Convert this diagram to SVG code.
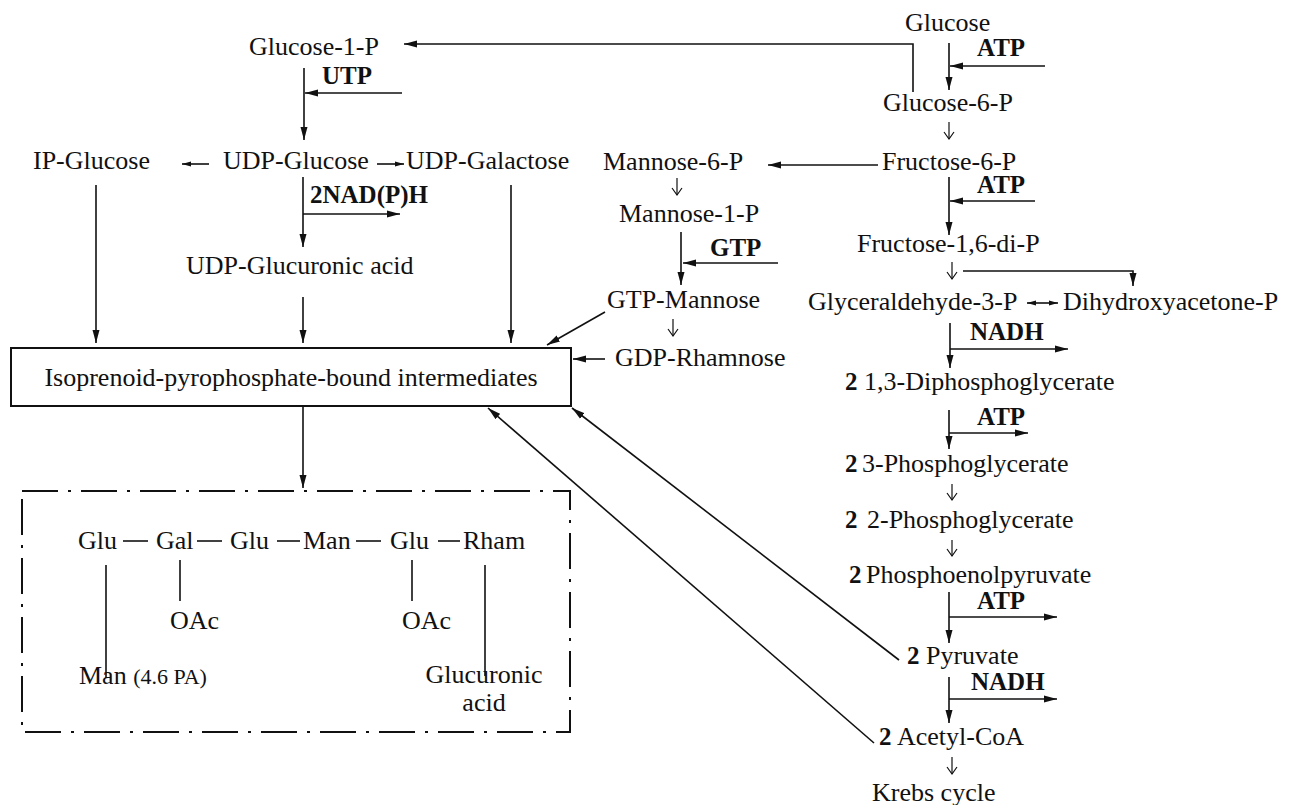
<svg xmlns="http://www.w3.org/2000/svg" width="1293" height="805" viewBox="0 0 1293 805">
<style>
text{font-family:"Liberation Serif","Times New Roman",serif;font-size:26px;fill:#111}
.b{font-weight:bold;font-size:25px}
.sm{font-size:22px}
.c line,.c polyline,.c path{stroke:#111;stroke-width:1.6;fill:none}
.c .a{marker-end:url(#ah)}
.c .s{marker-end:url(#sh)}
.c .t{stroke-width:1.2;marker-end:url(#oh)}
</style>
<defs>
<marker id="ah" markerUnits="userSpaceOnUse" markerWidth="14" markerHeight="8" refX="13" refY="4" orient="auto">
<path d="M0,0.5 L13,4 L0,7.5 z" fill="#111"/>
</marker>
<marker id="sh" markerUnits="userSpaceOnUse" markerWidth="10" markerHeight="6" refX="9" refY="3" orient="auto">
<path d="M0,0.5 L9,3 L0,5.5 z" fill="#111"/>
</marker>
<marker id="shs" markerUnits="userSpaceOnUse" markerWidth="10" markerHeight="6" refX="0" refY="3" orient="auto">
<path d="M9,0.5 L0,3 L9,5.5 z" fill="#111"/>
</marker>
<marker id="oh" markerUnits="userSpaceOnUse" markerWidth="10" markerHeight="14" refX="8" refY="6" orient="auto">
<path d="M1,1 L8,6 L1,11" fill="none" stroke="#111" stroke-width="1.2"/>
</marker>
</defs>

<g id="connectors" class="c">
<!-- glycolysis -->
<line class="a" x1="949" y1="43" x2="949" y2="90"/>
<line class="a" x1="1045" y1="66" x2="950" y2="66"/>
<polyline class="a" points="913,92 913,44 404,44"/>
<line class="t" x1="949" y1="122" x2="949" y2="139"/>
<line class="a" x1="949" y1="177" x2="949" y2="235"/>
<line class="a" x1="1035" y1="201" x2="950" y2="201"/>
<line class="a" x1="878" y1="165" x2="768" y2="165"/>
<line class="t" x1="952" y1="262" x2="952" y2="279"/>
<polyline class="a" points="963,271 1133,271 1133,286"/>
<line style="marker-start:url(#shs);marker-end:url(#sh)" x1="1027" y1="303" x2="1058" y2="303"/>
<line class="a" x1="950" y1="323" x2="950" y2="368"/>
<line class="a" x1="950" y1="349" x2="1068" y2="349"/>
<line class="a" x1="949" y1="410" x2="949" y2="449"/>
<line class="a" x1="949" y1="433" x2="1028" y2="433"/>
<line class="t" x1="952" y1="484" x2="952" y2="500"/>
<line class="t" x1="952" y1="540" x2="952" y2="556"/>
<line class="a" x1="949" y1="592" x2="949" y2="643"/>
<line class="a" x1="949" y1="617" x2="1057" y2="617"/>
<line class="a" x1="949" y1="677" x2="949" y2="723"/>
<line class="a" x1="949" y1="699" x2="1057" y2="699"/>
<line class="t" x1="952" y1="757" x2="952" y2="774"/>
<line class="a" x1="899" y1="660" x2="572" y2="408"/>
<line class="a" x1="874" y1="743" x2="488" y2="408"/>
<!-- UDP side -->
<line class="a" x1="304" y1="68" x2="304" y2="140"/>
<line class="a" x1="402" y1="93" x2="305" y2="93"/>
<line class="s" x1="209" y1="164" x2="182" y2="164"/>
<line class="s" x1="377" y1="164" x2="404" y2="164"/>
<line class="a" x1="303" y1="177" x2="303" y2="247"/>
<line class="a" x1="303" y1="214" x2="400" y2="214"/>
<line class="a" x1="96" y1="185" x2="96" y2="343"/>
<line class="a" x1="303" y1="297" x2="303" y2="343"/>
<line class="a" x1="511" y1="185" x2="511" y2="343"/>
<!-- mannose side -->
<line class="t" x1="677" y1="178" x2="677" y2="195"/>
<line class="a" x1="681" y1="232" x2="681" y2="285"/>
<line class="a" x1="778" y1="263" x2="683" y2="263"/>
<line class="a" x1="605" y1="312" x2="547" y2="345"/>
<line class="t" x1="673" y1="319" x2="673" y2="336"/>
<line class="a" x1="605" y1="359" x2="573" y2="359"/>
<!-- box to polymer -->
<line class="a" x1="303" y1="407" x2="303" y2="488"/>
</g>

<g id="n-glucose"><text x="905" y="31">Glucose</text><text class="b" x="977" y="56">ATP</text></g>
<g id="n-glucose6p"><text x="883" y="111">Glucose-6-P</text></g>
<g id="n-fructose6p"><text x="882" y="170">Fructose-6-P</text><text class="b" x="977" y="193">ATP</text></g>
<g id="n-fructose16"><text x="857" y="252">Fructose-1,6-di-P</text></g>
<g id="n-g3p"><text x="808" y="310">Glyceraldehyde-3-P</text><text class="b" x="970" y="340">NADH</text></g>
<g id="n-dhap"><text x="1063" y="310">Dihydroxyacetone-P</text></g>
<g id="n-13dpg"><text class="b" x="845" y="390">2</text><text x="864" y="390">1,3-Diphosphoglycerate</text><text class="b" x="977" y="425">ATP</text></g>
<g id="n-3pg"><text class="b" x="845" y="472">2</text><text x="862" y="472">3-Phosphoglycerate</text></g>
<g id="n-2pg"><text class="b" x="845" y="528">2</text><text x="867" y="528">2-Phosphoglycerate</text></g>
<g id="n-pep"><text class="b" x="849" y="583">2</text><text x="866" y="583">Phosphoenolpyruvate</text><text class="b" x="977" y="609">ATP</text></g>
<g id="n-pyruvate"><text class="b" x="907" y="664">2</text><text x="926" y="664">Pyruvate</text><text class="b" x="971" y="690">NADH</text></g>
<g id="n-acetyl"><text class="b" x="879" y="745">2</text><text x="897" y="745">Acetyl-CoA</text></g>
<g id="n-krebs"><text x="872" y="801">Krebs cycle</text></g>

<g id="n-glucose1p"><text x="249" y="55">Glucose-1-P</text><text class="b" x="322" y="84">UTP</text></g>
<g id="n-ipglucose"><text x="33" y="169">IP-Glucose</text></g>
<g id="n-udpglucose"><text x="223" y="169">UDP-Glucose</text><text class="b" x="310" y="203">2NAD(P)H</text></g>
<g id="n-udpgalactose"><text x="406" y="169">UDP-Galactose</text></g>
<g id="n-udpglucuronic"><text x="186" y="274">UDP-Glucuronic acid</text></g>

<g id="n-mannose6p"><text x="603" y="170">Mannose-6-P</text></g>
<g id="n-mannose1p"><text x="619" y="222">Mannose-1-P</text><text class="b" x="710" y="256">GTP</text></g>
<g id="n-gtpmannose"><text x="607" y="308">GTP-Mannose</text></g>
<g id="n-gdprhamnose"><text x="615" y="366">GDP-Rhamnose</text></g>

<g id="n-isoprenoid">
<rect x="11" y="348" width="560" height="58" fill="none" stroke="#111" stroke-width="2"/>
<text x="291" y="386" text-anchor="middle">Isoprenoid-pyrophosphate-bound intermediates</text>
</g>

<g id="n-polymer">
<rect x="22" y="491" width="548" height="241" fill="none" stroke="#111" stroke-width="2" stroke-dasharray="36 10 3 10"/>
<text x="78" y="549">Glu</text>
<text x="156" y="549">Gal</text>
<text x="230" y="549">Glu</text>
<text x="303" y="549">Man</text>
<text x="390" y="549">Glu</text>
<text x="463" y="549">Rham</text>
<g stroke="#111" stroke-width="1.6">
<line x1="123" y1="541" x2="148" y2="541"/>
<line x1="197" y1="541" x2="222" y2="541"/>
<line x1="277" y1="541" x2="300" y2="541"/>
<line x1="356" y1="541" x2="381" y2="541"/>
<line x1="438" y1="541" x2="460" y2="541"/>
<line x1="106" y1="565" x2="106" y2="678"/>
<line x1="180" y1="560" x2="180" y2="601"/>
<line x1="412" y1="560" x2="412" y2="601"/>
<line x1="485" y1="565" x2="485" y2="676"/>
</g>
<text x="170" y="629">OAc</text>
<text x="402" y="629">OAc</text>
<text x="79" y="684">Man <tspan class="sm">(4.6 PA)</tspan></text>
<text x="484" y="683" text-anchor="middle">Glucuronic</text>
<text x="484" y="711" text-anchor="middle">acid</text>
</g>
</svg>
